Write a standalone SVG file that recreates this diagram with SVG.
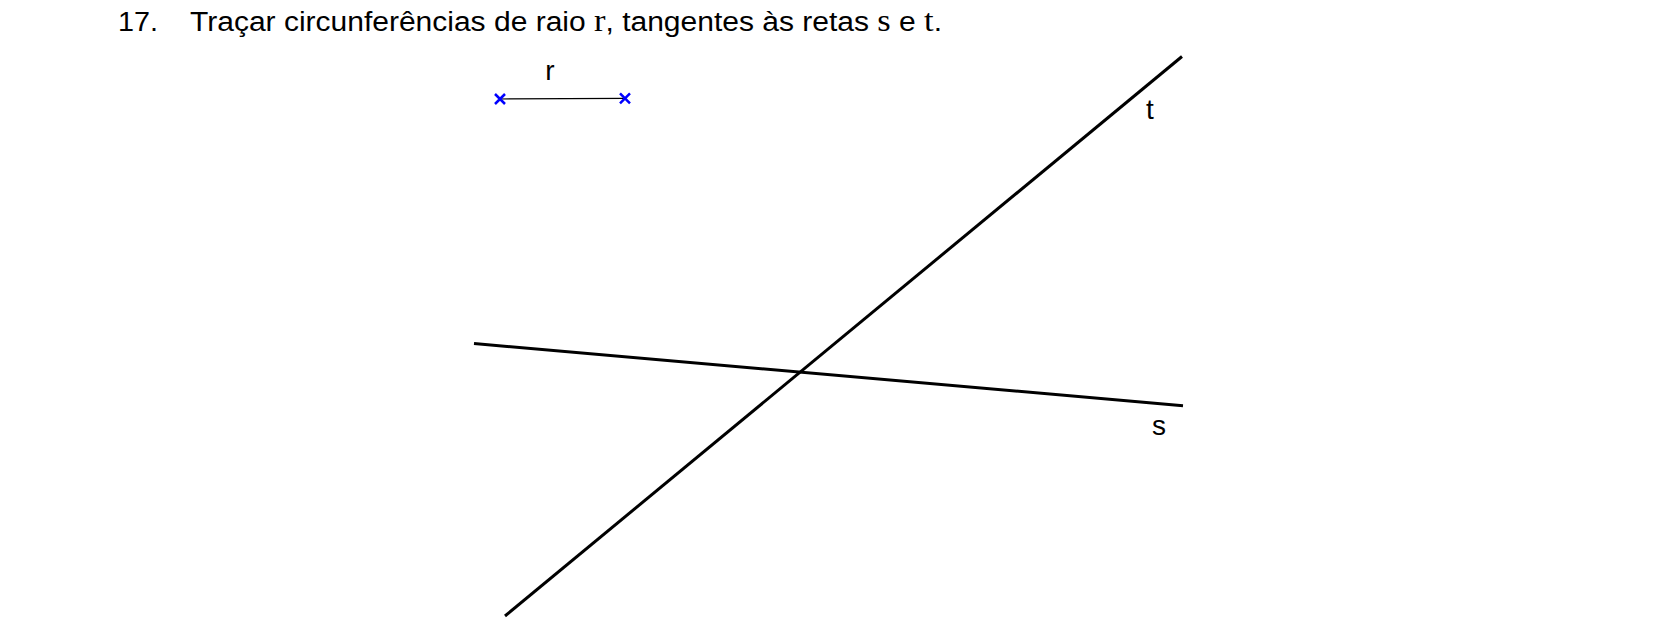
<svg xmlns="http://www.w3.org/2000/svg" width="1653" height="630" viewBox="0 0 1653 630">
<style>
.title{font-family:"Liberation Sans",Arial,sans-serif;font-size:27px;fill:#000}
.math{font-family:"Liberation Serif","Times New Roman",serif;font-size:31px}
.lbl{font-family:"Liberation Sans",Arial,sans-serif;font-size:28px;fill:#000}
.ln{stroke:#000;stroke-width:3;fill:none;stroke-linecap:butt}
.x{stroke:#0000ff;stroke-width:2.5;fill:none}
</style>
<rect width="1653" height="630" fill="#fff"/>
<g id="title">
<text class="title" x="118" y="31" textLength="40" lengthAdjust="spacingAndGlyphs">17.</text>
<text class="title" x="190" y="31" textLength="752" lengthAdjust="spacingAndGlyphs">Traçar circunferências de raio <tspan class="math">r</tspan>, tangentes às retas <tspan class="math">s</tspan> e <tspan class="math">t</tspan>.</text>
</g>
<g id="radius">
<line x1="500" y1="99" x2="625" y2="98.3" stroke="#000" stroke-width="1.2"/>
<path class="x" d="M495 94 L505 104 M495 104 L505 94"/>
<path class="x" d="M620 93.3 L630 103.3 M620 103.3 L630 93.3"/>
<text class="lbl" x="550" y="80" text-anchor="middle">r</text>
</g>
<g id="connectors">
<line id="line-s" class="ln" x1="474" y1="343.5" x2="1183" y2="405.7"/>
<line id="line-t" class="ln" x1="1182" y1="56.5" x2="505" y2="616"/>
</g>
<g id="label-t"><text class="lbl" x="1150" y="119" text-anchor="middle">t</text></g>
<g id="label-s"><text class="lbl" x="1159" y="435" text-anchor="middle">s</text></g>
</svg>
